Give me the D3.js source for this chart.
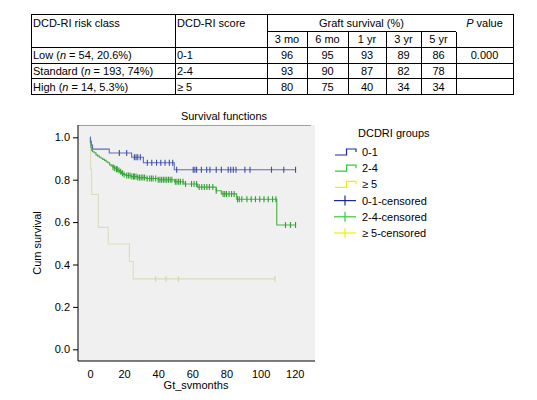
<!DOCTYPE html>
<html><head><meta charset="utf-8">
<script src="https://cdn.jsdelivr.net/npm/d3@7"></script>
<style>body{margin:0;background:#fff}svg{display:block}text{font-family:"Liberation Sans",Arial,sans-serif;font-size:11px;fill:#000}</style>
</head><body>
<svg id="c" width="537" height="400"></svg>
<script>
// ---- table data ----
const riskClasses = [["Low (", "n", " = 54, 20.6%)"], ["Standard (", "n", " = 193, 74%)"], ["High (", "n", " = 14, 5.3%)"]];
const scores = ["0-1", "2-4", "\u2265 5"];
const periods = ["3 mo", "6 mo", "1 yr", "3 yr", "5 yr"];
const survLow = [96, 95, 93, 89, 86];
const survStd = [93, 90, 87, 82, 78];
const survHigh = [80, 75, 40, 34, 34];
const pValues = ["0.000", "", ""];

// ---- KM curves: [time, survival after step] ----
const groups = ["0-1", "2-4", "\u2265 5"];
const kmLow = [[0,1.0],[0.3,0.981],[0.8,0.963],[1.5,0.944],[11.3,0.926],[24.4,0.906],[31.3,0.880],[49.4,0.847],[120.7,0.847]];
const censLow = [17.2,21.5,26,27,28,29.5,33.6,36.2,39,41.5,44,46.5,48.5,50.8,60.5,61.5,62.5,65.3,68.4,70.3,74,77,81,82.5,84,85.6,90.8,93.8,106.4,113.6,120.5];
const kmStd = [[0,1.0],[0.2,0.974],[0.5,0.953],[1,0.938],[1.5,0.932],[2.5,0.927],[3.5,0.917],[4.5,0.911],[5.5,0.906],[6.5,0.901],[7.5,0.896],[8.5,0.891],[9.5,0.885],[10.5,0.880],[11.5,0.870],[12.5,0.865],[13.5,0.859],[14.5,0.854],[15.5,0.849],[16.5,0.843],[17.5,0.838],[18.5,0.830],[19.5,0.825],[21,0.820],[24,0.815],[28,0.810],[33,0.806],[40,0.800],[49.5,0.790],[55,0.780],[63,0.765],[74,0.748],[77,0.733],[86,0.708],[109.5,0.586],[120.7,0.586]];
const censStd = [13.5,14.5,15.5,16,17,18,19,20,21.5,22.5,23.5,24.5,25.5,26,27,28,29,30,31,32,33.5,35,36,37,38.5,40,41,42,43,44,45,46,47,48,50,51,52,53,54.5,56,59.5,61,62.5,64,65.5,67,68.5,70,72,74,78,79,80,81.5,83,84.5,86.5,87.5,89,92,94.5,97,99.5,102,104.5,107,109,114.6,117.5,120.5];
const kmHigh = [[0,1.0],[0.3,0.85],[1.0,0.73],[4.9,0.575],[10.7,0.497],[23.1,0.414],[25.3,0.332],[108.4,0.332]];
const censHigh = [38.5,44.5,51.8,108.4];
const xTicks = [0,20,40,60,80,100,120];
const yTicks = [0,0.2,0.4,0.6,0.8,1.0];

const svg = d3.select("#c");

// ---- table ----
const colX = [31, 175, 267, 307, 348, 386, 421, 456, 513];
const rowY = [14, 31.5, 47.3, 63.1, 78.9, 94.7];
const tg = svg.append("g");
const line = (x1,y1,x2,y2)=>tg.append("line").attr("x1",x1).attr("y1",y1).attr("x2",x2).attr("y2",y2).attr("stroke","#000").attr("stroke-width",1).attr("shape-rendering","crispEdges");
rowY.forEach((y,i)=>{ if(i===1) line(colX[2],y,colX[7],y); else line(colX[0],y,colX[8],y); });
colX.forEach((x,i)=>{ if(i>=3 && i<=7) line(x,rowY[1],x,rowY[5]); else line(x,rowY[0],x,rowY[5]); });
const cy = i => (rowY[i]+rowY[i+1])/2 + 4;
tg.append("text").attr("x",colX[0]+2).attr("y",cy(0)).text("DCD-RI risk class");
tg.append("text").attr("x",colX[1]+2).attr("y",cy(0)).text("DCD-RI score");
tg.append("text").attr("x",(colX[2]+colX[7])/2).attr("y",cy(0)).attr("text-anchor","middle").text("Graft survival (%)");
const pv = tg.append("text").attr("x",(colX[7]+colX[8])/2).attr("y",cy(0)).attr("text-anchor","middle");
pv.append("tspan").attr("font-style","italic").text("P");
pv.append("tspan").text(" value");
periods.forEach((p,j)=>tg.append("text").attr("x",(colX[2+j]+colX[3+j])/2).attr("y",cy(1)).attr("text-anchor","middle").text(p));
const surv = [survLow, survStd, survHigh];
riskClasses.forEach((rc,i)=>{
  const t = tg.append("text").attr("x",colX[0]+2).attr("y",cy(2+i));
  t.append("tspan").text(rc[0]); t.append("tspan").attr("font-style","italic").text(rc[1]); t.append("tspan").text(rc[2]);
  tg.append("text").attr("x",colX[1]+2).attr("y",cy(2+i)).text(scores[i]);
  surv[i].forEach((v,j)=>tg.append("text").attr("x",(colX[2+j]+colX[3+j])/2).attr("y",cy(2+i)).attr("text-anchor","middle").text(v));
  tg.append("text").attr("x",(colX[7]+colX[8])/2).attr("y",cy(2+i)).attr("text-anchor","middle").text(pValues[i]);
});

// ---- chart ----
const x = d3.scaleLinear().domain([0,120]).range([90,294.7]);
const y = d3.scaleLinear().domain([0,1]).range([349.3,137.3]);
const L=78, R=315, T=125, B=361;
svg.append("rect").attr("x",L).attr("y",T).attr("width",R-L).attr("height",B-T).attr("fill","#f0f0f0");
svg.append("line").attr("x1",L).attr("x2",R-4).attr("y1",T+0.5).attr("y2",T+0.5).attr("stroke","#a0a0a0");
svg.append("text").attr("x",224).attr("y",120).attr("text-anchor","middle").text("Survival functions");

const ya = svg.append("g").attr("transform",`translate(${L},0)`).call(d3.axisLeft(y).tickValues(yTicks).tickFormat(d3.format(".1f")).tickSize(5).tickPadding(3));
ya.select(".domain").attr("d",`M0,${T}V${B}`);
const xa = svg.append("g").attr("transform",`translate(0,${B})`).call(d3.axisBottom(x).tickValues(xTicks).tickSize(0).tickPadding(9));
xa.select(".domain").attr("d",`M${L},0H${R}`);
svg.selectAll(".tick text").attr("font-size","11px").attr("font-family","Liberation Sans, Arial, sans-serif").attr("fill","#000");
svg.selectAll(".domain, .tick line").attr("stroke","#000");
svg.append("text").attr("x",196).attr("y",389).attr("text-anchor","middle").text("Gt_svmonths");
svg.append("text").attr("transform","translate(41,243) rotate(-90)").attr("text-anchor","middle").text("Cum survival");

const stepLine = d3.line().x(d=>x(d[0])).y(d=>y(d[1])).curve(d3.curveStepAfter);
const series = [
  {km:kmLow, cens:censLow, line:"#5c6cb4", mark:"#3c4ca8"},
  {km:kmStd, cens:censStd, line:"#44b044", mark:"#30a030"},
  {km:kmHigh, cens:censHigh, line:"#dcdcbc", mark:"#d4d4b0"}
];
const survAt = (km,t)=>{let s=km[0][1]; for(const p of km){ if(p[0]<=t) s=p[1]; } return s;};
series.slice().reverse().forEach(s=>{
  svg.append("path").attr("d",stepLine(s.km)).attr("fill","none").attr("stroke",s.line).attr("stroke-width",1.1);
  svg.append("g").selectAll("line").data(s.cens).join("line")
    .attr("x1",d=>x(d)).attr("x2",d=>x(d)).attr("y1",d=>y(survAt(s.km,d))-3).attr("y2",d=>y(survAt(s.km,d))+3)
    .attr("stroke",s.mark).attr("stroke-width",1.1);
});

// ---- legend ----
const lg = svg.append("g");
lg.append("text").attr("x",358).attr("y",137).text("DCDRI groups");
const legCols = ["#1a2a9a","#33cc33","#f0f000"];
const legLabels = [groups[0], groups[1], groups[2], groups[0]+"-censored", groups[1]+"-censored", groups[2]+"-censored"];
legLabels.forEach((lab,i)=>{
  const yy = 150 + i*16.2;
  const c = legCols[i%3];
  if(i<3){
    lg.append("path").attr("d",`M335,${yy+5}H346.5V${yy-1}H356V${yy+2}`).attr("fill","none").attr("stroke",c).attr("stroke-width",1.2);
  } else {
    lg.append("line").attr("x1",334).attr("x2",356).attr("y1",yy+2).attr("y2",yy+2).attr("stroke",c).attr("stroke-width",1.2);
    lg.append("line").attr("x1",345).attr("x2",345).attr("y1",yy-3).attr("y2",yy+7).attr("stroke",c).attr("stroke-width",1.2);
  }
  lg.append("text").attr("x",362).attr("y",yy+6).text(lab);
});
</script>
</body></html>
